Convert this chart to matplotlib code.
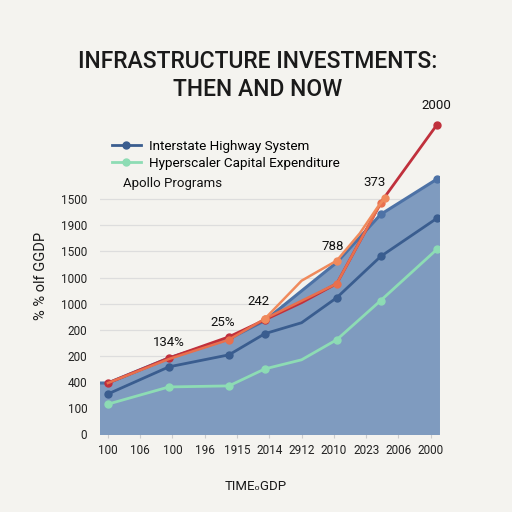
import matplotlib
matplotlib.use("Agg")
import matplotlib.pyplot as plt

plt.rcParams['font.family'] = ['Roboto', 'DejaVu Sans']

# tick labels (as printed on the chart)
x_labels = ['100', '106', '100', '196', '1915', '2014', '2912', '2010', '2023', '2006', '2000']
y_labels = ['0', '100', '400', '200', '200', '1000', '1000', '1500', '1900', '1500']

# series, in tick-index units
area_x = [-0.25, 0, 1.89, 3.75, 4.86, 7.09, 8.45, 10.19, 10.25]
area_y = [1.96, 1.96, 2.92, 3.65, 4.35, 6.58, 8.42, 9.77, 9.77]

highway_x = [0, 1.89, 3.75, 4.86, 6.0, 7.09, 8.45, 10.19]
highway_y = [1.54, 2.58, 3.04, 3.85, 4.27, 5.23, 6.81, 8.27]

hyper_x = [0, 1.89, 3.75, 4.86, 6.0, 7.09, 8.45, 10.19]
hyper_y = [1.15, 1.81, 1.85, 2.5, 2.85, 3.62, 5.12, 7.08]

apollo_x = [0, 1.89, 3.75, 4.86, 6.0, 7.09, 8.5, 10.19]
apollo_y = [1.96, 2.92, 3.73, 4.38, 5.04, 5.77, 8.96, 11.85]

coral_x = [0, 1.89, 3.75, 4.86, 7.09, 8.45]
coral_y = [1.96, 2.88, 3.62, 4.42, 5.77, 8.85]

orange_x = [4.86, 6.0, 7.09, 7.8, 8.35, 8.57]
orange_y = [4.42, 5.88, 6.65, 7.69, 8.69, 9.04]

notes = ['134%', '25%', '242', '788', '373', '2000']
notes_x = [1.89, 3.56, 4.67, 6.97, 8.27, 10.19]
notes_y = [3.5, 4.27, 5.08, 7.19, 9.65, 12.6]

bg = '#f4f3ef'
fig = plt.figure(figsize=(5.12, 5.12), dpi=100, facecolor=bg)
ax = fig.add_axes([0.195, 0.152, 0.662, 0.627], facecolor=bg)

ax.set_xlim(-0.25, 10.25)
ax.set_ylim(0, 12.3)
ax.set_yticks(range(len(y_labels)))
ax.set_yticklabels(y_labels, fontsize=8.5, color='#222222')
ax.set_xticks(range(len(x_labels)))
ax.set_xticklabels(x_labels, fontsize=8.5, color='#222222')
ax.tick_params(axis='y', length=0, pad=9)
ax.tick_params(axis='x', length=3, color='#cccccc', pad=4)
for s in ax.spines.values():
    s.set_visible(False)
ax.grid(axis='y', color='#dddddd', linewidth=0.9)
ax.set_axisbelow(True)

# area
ax.fill_between(area_x, 0, area_y, color='#7f9bbf', zorder=2)
ax.plot(area_x, area_y, color='#4d72a6', linewidth=2.2, zorder=3)
ax.plot(area_x[6:8], area_y[6:8], 'o', color='#4d72a6', markersize=5, zorder=3)

hw, = ax.plot(highway_x, highway_y, color='#3a5d8f', linewidth=2, marker='o', markersize=5,
              markevery=[0, 1, 2, 3, 5, 6, 7], zorder=4)
hy, = ax.plot(hyper_x, hyper_y, color='#8ddcb4', linewidth=2, marker='o', markersize=5,
              markevery=[0, 1, 2, 3, 5, 6, 7], zorder=4)
ax.plot(apollo_x, apollo_y, color='#c0303c', linewidth=2, marker='o', markersize=5,
        markevery=[0, 1, 2, 3, 7], zorder=5, clip_on=False)
ax.plot(coral_x, coral_y, color='#e8704e', linewidth=1.8, marker='o', markersize=5,
        markevery=[2, 3, 4, 5], zorder=6)
ax.plot(orange_x, orange_y, color='#f08a5c', linewidth=1.8, marker='o', markersize=5,
        markevery=[0, 2, 5], zorder=6)

for t, x, y in zip(notes, notes_x, notes_y):
    ax.text(x, y, t, fontsize=9.5, ha='center', va='center', color='#111111', zorder=7, clip_on=False)

ax.legend([hw, hy], ['Interstate Highway System', 'Hyperscaler Capital Expenditure'],
          loc='upper left', bbox_to_anchor=(0.218, 0.727), bbox_transform=fig.transFigure,
          frameon=False, fontsize=9.7, handlelength=2.2, handletextpad=0.6, labelspacing=0.28,
          borderpad=0, borderaxespad=0)
fig.text(123 / 512, 1 - 184 / 512, 'Apollo Programs', fontsize=9.5, va='center', ha='left', color='#111111')

fig.text(0.503, 1 - 61 / 512, 'INFRASTRUCTURE INVESTMENTS:', fontsize=16.5, fontweight='medium',
         ha='center', va='center', color='#1a1a1a')
fig.text(0.503, 1 - 90 / 512, 'THEN AND NOW', fontsize=16.5, fontweight='medium',
         ha='center', va='center', color='#1a1a1a')

fig.text(41 / 512, 1 - 276 / 512, '% % olf GGDP', fontsize=10.5, rotation=90, ha='center', va='center',
         color='#1a1a1a')
fig.text(0.5, 1 - 487 / 512, 'TIME\u2092GDP', fontsize=9.5, ha='center', va='center', color='#1a1a1a')

fig.savefig('out.png', dpi=100, facecolor=bg)
